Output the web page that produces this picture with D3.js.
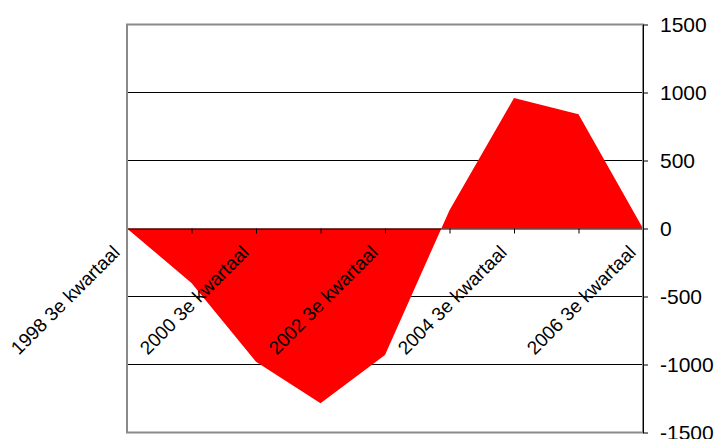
<!DOCTYPE html>
<html>
<head>
<meta charset="utf-8">
<script src="https://cdn.jsdelivr.net/npm/d3@7"></script>
<style>
  body { margin: 0; background: #fff; }
  text { font-family: "Liberation Sans", Arial, sans-serif; }
</style>
</head>
<body>
<div id="chart"></div>
<script>
const categories = ["1998 3e kwartaal", "1999 3e kwartaal", "2000 3e kwartaal", "2001 3e kwartaal",
  "2002 3e kwartaal", "2003 3e kwartaal", "2004 3e kwartaal", "2005 3e kwartaal", "2006 3e kwartaal"];
const values = [0, -400, -980, -1285, -930, 135, 960, 840, 0];
const yTicks = [1500, 1000, 500, 0, -500, -1000, -1500];
const gridValues = [1000, 500, -500, -1000];

const width = 714, height = 439;
const plotLeft = 127, plotRight = 643, plotTop = 24.5, plotBottom = 432.5;

const svg = d3.select("#chart").append("svg")
  .attr("width", width)
  .attr("height", height);

const x = d3.scalePoint().domain(categories).range([plotLeft, plotRight]);
const y = d3.scaleLinear().domain([-1500, 1500]).range([plotBottom, plotTop]);

// gridlines (under the fill)
gridValues.forEach(v =>
  svg.append("line")
    .attr("x1", plotLeft).attr("x2", plotRight)
    .attr("y1", y(v)).attr("y2", y(v))
    .attr("stroke", "#000")
    .attr("stroke-width", 1)
);

// the area, filled to zero
let area = d3.area()
  .x((d, i) => x(categories[i]))
  .y0(y(0))
  .y1(d => y(d));

svg.append("path")
  .datum(values)
  .attr("d", area)
  .attr("fill", "#ff0000");

// category axis on the zero line
let xAxis = svg.append("g")
  .attr("transform", `translate(0,${y(0)})`)
  .call(d3.axisBottom(x).tickSize(5).tickSizeOuter(0).tickFormat(""));
xAxis.select(".domain").attr("stroke", "#000");
xAxis.selectAll(".tick line").attr("stroke", "#000");

// plot border
svg.append("rect")
  .attr("x", plotLeft).attr("y", plotTop)
  .attr("width", plotRight - plotLeft).attr("height", plotBottom - plotTop)
  .attr("fill", "none")
  .attr("stroke", "#8a8a8a")
  .attr("stroke-width", 2);

// value axis on the right
let yAxis = svg.append("g")
  .attr("transform", `translate(${plotRight},0)`)
  .call(d3.axisRight(y).tickValues(yTicks).tickSize(5).tickSizeOuter(0).tickPadding(12)
    .tickFormat(d => d));
yAxis.select(".domain").attr("stroke", "#000");
yAxis.selectAll(".tick line").attr("stroke", "#000");
yAxis.selectAll(".tick text")
  .attr("font-size", "21px")
  .attr("font-family", "Liberation Sans, Arial, sans-serif")
  .attr("fill", "#000");

// rotated category labels, every second one
categories.forEach((c, i) => {
  if (i % 2 !== 0) return;
  let lx = x(c) - 6, ly = y(0) + 25;
  svg.append("text")
    .attr("x", lx)
    .attr("y", ly)
    .attr("transform", `rotate(-45,${lx},${ly})`)
    .attr("text-anchor", "end")
    .attr("font-size", "19px")
    .attr("fill", "#000")
    .text(c);
});
</script>
</body>
</html>
